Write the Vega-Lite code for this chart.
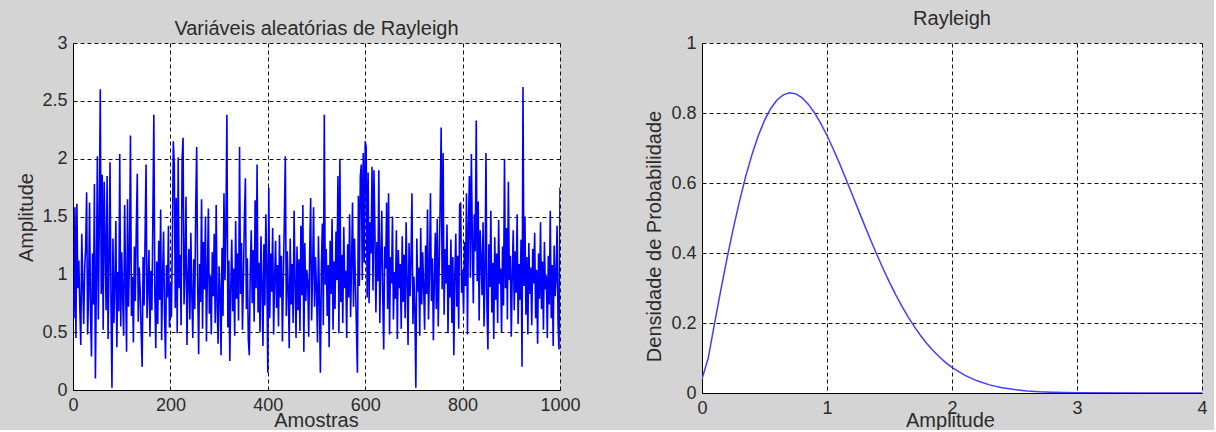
{
  "$schema": "https://vega.github.io/schema/vega-lite/v6.json",
  "background": "#d4d4d4",
  "padding": {"left": 16, "top": 9, "right": 6, "bottom": 0},
  "bounds": "flush",
  "spacing": 142,
  "config": {
    "font": "Liberation Sans",
    "view": {"fill": "white", "stroke": null},
    "axis": {
      "domainColor": "#000000", "domainWidth": 1,
      "grid": true, "gridColor": "#111111", "gridDash": [4, 3], "gridOpacity": 1, "gridWidth": 1,
      "ticks": false, "labelFlush": false,
      "labelFont": "Liberation Sans", "labelFontSize": 18, "labelColor": "#2b2b2b", "labelPadding": 6,
      "titleFont": "Liberation Sans", "titleFontSize": 20, "titleFontWeight": "normal", "titleColor": "#2b2b2b"
    },
    "title": {"font": "Liberation Sans", "fontSize": 20, "fontWeight": "normal", "color": "#2b2b2b", "anchor": "middle", "baseline": "alphabetic"}
  },
  "datasets": {
    "rv": [
      {"n":2,"a":0.62},{"n":4,"a":1.58},{"n":6,"a":0.45},{"n":8,"a":1.61},{"n":10,"a":0.88},{"n":12,"a":1.12},{"n":14,"a":0.71},{"n":16,"a":0.39},{"n":18,"a":1.35},{"n":20,"a":0.94},
      {"n":22,"a":0.57},{"n":24,"a":1.05},{"n":26,"a":1.24},{"n":28,"a":1.71},{"n":30,"a":0.48},{"n":32,"a":0.83},{"n":34,"a":1.62},{"n":36,"a":0.66},{"n":38,"a":0.29},{"n":40,"a":1.18},
      {"n":42,"a":0.74},{"n":44,"a":1.78},{"n":46,"a":0.10},{"n":48,"a":0.95},{"n":50,"a":2.02},{"n":52,"a":0.61},{"n":54,"a":1.44},{"n":56,"a":2.60},{"n":58,"a":0.83},{"n":60,"a":1.86},
      {"n":62,"a":0.52},{"n":64,"a":1.80},{"n":66,"a":1.27},{"n":68,"a":0.69},{"n":70,"a":1.85},{"n":72,"a":0.44},{"n":74,"a":1.09},{"n":76,"a":1.97},{"n":78,"a":0.76},{"n":80,"a":0.02},
      {"n":82,"a":1.31},{"n":84,"a":0.58},{"n":86,"a":0.91},{"n":88,"a":1.46},{"n":90,"a":0.37},{"n":92,"a":1.02},{"n":94,"a":0.68},{"n":96,"a":2.04},{"n":98,"a":0.55},{"n":100,"a":1.19},
      {"n":102,"a":0.81},{"n":104,"a":0.47},{"n":106,"a":1.60},{"n":108,"a":0.93},{"n":110,"a":0.33},{"n":112,"a":1.65},{"n":114,"a":0.72},{"n":116,"a":1.13},{"n":118,"a":2.20},{"n":120,"a":0.64},
      {"n":122,"a":0.98},{"n":124,"a":0.41},{"n":126,"a":1.24},{"n":128,"a":0.77},{"n":130,"a":1.40},{"n":132,"a":1.87},{"n":134,"a":0.59},{"n":136,"a":1.06},{"n":138,"a":0.86},{"n":140,"a":0.50},
      {"n":142,"a":0.20},{"n":144,"a":1.15},{"n":146,"a":0.73},{"n":148,"a":1.32},{"n":150,"a":1.95},{"n":152,"a":0.62},{"n":154,"a":0.90},{"n":156,"a":1.21},{"n":158,"a":0.46},{"n":160,"a":1.03},
      {"n":162,"a":0.69},{"n":164,"a":1.48},{"n":166,"a":2.38},{"n":168,"a":0.84},{"n":170,"a":0.36},{"n":172,"a":1.11},{"n":174,"a":0.57},{"n":176,"a":1.29},{"n":178,"a":0.78},{"n":180,"a":1.56},
      {"n":182,"a":0.43},{"n":184,"a":0.97},{"n":186,"a":1.37},{"n":188,"a":0.65},{"n":190,"a":0.27},{"n":192,"a":1.08},{"n":194,"a":0.80},{"n":196,"a":1.42},{"n":198,"a":0.54},{"n":200,"a":0.92},
      {"n":202,"a":0.63},{"n":204,"a":1.26},{"n":206,"a":2.15},{"n":208,"a":1.94},{"n":210,"a":0.71},{"n":212,"a":1.66},{"n":214,"a":0.49},{"n":216,"a":2.01},{"n":218,"a":0.88},{"n":220,"a":1.17},
      {"n":222,"a":0.56},{"n":224,"a":2.00},{"n":226,"a":2.18},{"n":228,"a":0.74},{"n":230,"a":1.04},{"n":232,"a":1.67},{"n":234,"a":0.39},{"n":236,"a":0.95},{"n":238,"a":1.22},{"n":240,"a":0.61},
      {"n":242,"a":1.36},{"n":244,"a":0.82},{"n":246,"a":0.45},{"n":248,"a":1.13},{"n":250,"a":0.70},{"n":252,"a":1.58},{"n":254,"a":2.10},{"n":256,"a":0.92},{"n":258,"a":0.31},{"n":260,"a":1.09},
      {"n":262,"a":0.76},{"n":264,"a":1.65},{"n":266,"a":0.53},{"n":268,"a":1.28},{"n":270,"a":0.87},{"n":272,"a":1.50},{"n":274,"a":0.42},{"n":276,"a":1.01},{"n":278,"a":1.57},{"n":280,"a":0.66},
      {"n":282,"a":0.99},{"n":284,"a":0.48},{"n":286,"a":1.19},{"n":288,"a":0.81},{"n":290,"a":1.35},{"n":292,"a":0.58},{"n":294,"a":1.60},{"n":296,"a":0.72},{"n":298,"a":0.40},{"n":300,"a":1.07},
      {"n":302,"a":0.86},{"n":304,"a":0.30},{"n":306,"a":1.23},{"n":308,"a":0.64},{"n":310,"a":1.70},{"n":312,"a":0.95},{"n":314,"a":1.41},{"n":316,"a":2.38},{"n":318,"a":0.54},{"n":320,"a":1.12},
      {"n":322,"a":0.25},{"n":324,"a":0.89},{"n":326,"a":1.30},{"n":328,"a":0.68},{"n":330,"a":1.05},{"n":332,"a":0.47},{"n":334,"a":1.46},{"n":336,"a":0.79},{"n":338,"a":1.18},{"n":340,"a":0.60},
      {"n":342,"a":2.10},{"n":344,"a":0.83},{"n":346,"a":1.27},{"n":348,"a":0.52},{"n":350,"a":0.97},{"n":352,"a":1.49},{"n":354,"a":1.83},{"n":356,"a":0.70},{"n":358,"a":1.14},{"n":360,"a":0.44},
      {"n":362,"a":0.30},{"n":364,"a":1.02},{"n":366,"a":1.38},{"n":368,"a":0.75},{"n":370,"a":1.21},{"n":372,"a":0.59},{"n":374,"a":1.64},{"n":376,"a":0.88},{"n":378,"a":1.95},{"n":380,"a":0.67},
      {"n":382,"a":1.10},{"n":384,"a":0.50},{"n":386,"a":1.33},{"n":388,"a":0.91},{"n":390,"a":0.38},{"n":392,"a":1.26},{"n":394,"a":0.73},{"n":396,"a":1.52},{"n":398,"a":1.03},{"n":400,"a":0.15},
      {"n":402,"a":1.75},{"n":404,"a":0.62},{"n":406,"a":1.18},{"n":408,"a":0.85},{"n":410,"a":1.40},{"n":412,"a":0.48},{"n":414,"a":0.96},{"n":416,"a":1.29},{"n":418,"a":0.71},{"n":420,"a":1.08},
      {"n":422,"a":0.55},{"n":424,"a":1.34},{"n":426,"a":0.80},{"n":428,"a":1.16},{"n":430,"a":0.42},{"n":432,"a":0.99},{"n":434,"a":1.47},{"n":436,"a":2.02},{"n":438,"a":0.64},{"n":440,"a":1.20},
      {"n":442,"a":0.87},{"n":444,"a":0.36},{"n":446,"a":1.31},{"n":448,"a":0.74},{"n":450,"a":1.09},{"n":452,"a":0.58},{"n":454,"a":1.55},{"n":456,"a":0.93},{"n":458,"a":0.45},{"n":460,"a":1.24},
      {"n":462,"a":0.69},{"n":464,"a":1.13},{"n":466,"a":0.51},{"n":468,"a":1.42},{"n":470,"a":0.82},{"n":472,"a":1.60},{"n":474,"a":0.33},{"n":476,"a":1.27},{"n":478,"a":0.77},{"n":480,"a":1.04},
      {"n":482,"a":0.94},{"n":484,"a":0.46},{"n":486,"a":1.19},{"n":488,"a":1.66},{"n":490,"a":0.60},{"n":492,"a":1.02},{"n":494,"a":1.58},{"n":496,"a":0.72},{"n":498,"a":1.15},{"n":500,"a":0.87},
      {"n":502,"a":0.41},{"n":504,"a":1.33},{"n":506,"a":0.78},{"n":508,"a":0.15},{"n":510,"a":1.06},{"n":512,"a":1.44},{"n":514,"a":0.56},{"n":516,"a":2.38},{"n":518,"a":0.91},{"n":520,"a":1.22},
      {"n":522,"a":0.64},{"n":524,"a":1.08},{"n":526,"a":0.37},{"n":528,"a":1.29},{"n":530,"a":0.83},{"n":532,"a":1.48},{"n":534,"a":0.52},{"n":536,"a":1.11},{"n":538,"a":0.70},{"n":540,"a":1.37},
      {"n":542,"a":0.95},{"n":544,"a":1.85},{"n":546,"a":0.49},{"n":548,"a":2.00},{"n":550,"a":0.76},{"n":552,"a":1.17},{"n":554,"a":0.58},{"n":556,"a":1.41},{"n":558,"a":0.88},{"n":560,"a":1.03},
      {"n":562,"a":0.45},{"n":564,"a":1.26},{"n":566,"a":0.80},{"n":568,"a":1.52},{"n":570,"a":0.63},{"n":572,"a":1.10},{"n":574,"a":1.62},{"n":576,"a":0.72},{"n":578,"a":1.31},{"n":580,"a":0.92},
      {"n":582,"a":0.54},{"n":584,"a":0.15},{"n":586,"a":1.68},{"n":588,"a":0.90},{"n":590,"a":1.85},{"n":592,"a":1.95},{"n":594,"a":0.95},{"n":596,"a":2.05},{"n":598,"a":1.10},{"n":600,"a":2.15},
      {"n":602,"a":2.10},{"n":604,"a":0.80},{"n":606,"a":1.88},{"n":608,"a":0.75},{"n":610,"a":1.45},{"n":612,"a":1.18},{"n":614,"a":1.93},{"n":616,"a":0.86},{"n":618,"a":1.90},{"n":620,"a":1.36},
      {"n":622,"a":0.67},{"n":624,"a":1.28},{"n":626,"a":0.94},{"n":628,"a":1.90},{"n":630,"a":0.58},{"n":632,"a":1.12},{"n":634,"a":1.55},{"n":636,"a":0.82},{"n":638,"a":0.35},{"n":640,"a":1.24},
      {"n":642,"a":1.05},{"n":644,"a":1.62},{"n":646,"a":0.70},{"n":648,"a":1.70},{"n":650,"a":0.48},{"n":652,"a":1.15},{"n":654,"a":0.92},{"n":656,"a":1.50},{"n":658,"a":0.61},{"n":660,"a":1.02},
      {"n":662,"a":0.79},{"n":664,"a":1.38},{"n":666,"a":0.44},{"n":668,"a":1.21},{"n":670,"a":0.88},{"n":672,"a":1.09},{"n":674,"a":0.53},{"n":676,"a":1.33},{"n":678,"a":0.76},{"n":680,"a":1.17},
      {"n":682,"a":0.62},{"n":684,"a":1.45},{"n":686,"a":0.95},{"n":688,"a":0.39},{"n":690,"a":1.27},{"n":692,"a":0.81},{"n":694,"a":1.12},{"n":696,"a":1.70},{"n":698,"a":0.57},{"n":700,"a":0.98},
      {"n":702,"a":0.68},{"n":704,"a":0.02},{"n":706,"a":1.31},{"n":708,"a":0.85},{"n":710,"a":1.06},{"n":712,"a":0.47},{"n":714,"a":1.40},{"n":716,"a":0.74},{"n":718,"a":1.19},{"n":720,"a":0.90},
      {"n":722,"a":0.52},{"n":724,"a":1.25},{"n":726,"a":0.83},{"n":728,"a":1.56},{"n":730,"a":0.61},{"n":732,"a":1.03},{"n":734,"a":1.70},{"n":736,"a":0.77},{"n":738,"a":1.14},{"n":740,"a":0.43},
      {"n":742,"a":0.96},{"n":744,"a":1.36},{"n":746,"a":0.70},{"n":748,"a":1.48},{"n":750,"a":0.55},{"n":752,"a":1.10},{"n":754,"a":1.62},{"n":756,"a":2.27},{"n":758,"a":0.87},{"n":760,"a":2.05},
      {"n":762,"a":0.65},{"n":764,"a":1.22},{"n":766,"a":0.92},{"n":768,"a":1.43},{"n":770,"a":0.49},{"n":772,"a":1.08},{"n":774,"a":0.80},{"n":776,"a":1.30},{"n":778,"a":0.58},{"n":780,"a":1.15},
      {"n":782,"a":0.30},{"n":784,"a":0.98},{"n":786,"a":1.35},{"n":788,"a":0.72},{"n":790,"a":1.16},{"n":792,"a":0.53},{"n":794,"a":1.60},{"n":796,"a":1.62},{"n":798,"a":0.84},{"n":800,"a":1.04},
      {"n":802,"a":0.66},{"n":804,"a":1.28},{"n":806,"a":0.90},{"n":808,"a":1.70},{"n":810,"a":0.48},{"n":812,"a":1.42},{"n":814,"a":1.85},{"n":816,"a":0.97},{"n":818,"a":2.04},{"n":820,"a":1.30},
      {"n":822,"a":0.75},{"n":824,"a":1.52},{"n":826,"a":1.20},{"n":828,"a":2.33},{"n":830,"a":0.94},{"n":832,"a":1.63},{"n":834,"a":0.60},{"n":836,"a":1.38},{"n":838,"a":1.12},{"n":840,"a":0.82},
      {"n":842,"a":1.45},{"n":844,"a":0.55},{"n":846,"a":1.00},{"n":848,"a":2.05},{"n":850,"a":0.71},{"n":852,"a":0.35},{"n":854,"a":1.26},{"n":856,"a":0.89},{"n":858,"a":1.55},{"n":860,"a":0.67},
      {"n":862,"a":1.10},{"n":864,"a":0.44},{"n":866,"a":1.32},{"n":868,"a":0.78},{"n":870,"a":1.18},{"n":872,"a":0.58},{"n":874,"a":1.47},{"n":876,"a":0.92},{"n":878,"a":1.05},{"n":880,"a":0.50},
      {"n":882,"a":1.24},{"n":884,"a":0.73},{"n":886,"a":2.00},{"n":888,"a":0.88},{"n":890,"a":1.40},{"n":892,"a":0.61},{"n":894,"a":1.80},{"n":896,"a":0.95},{"n":898,"a":1.16},{"n":900,"a":0.46},
      {"n":902,"a":1.02},{"n":904,"a":1.38},{"n":906,"a":0.69},{"n":908,"a":1.20},{"n":910,"a":0.84},{"n":912,"a":1.52},{"n":914,"a":0.57},{"n":916,"a":1.09},{"n":918,"a":0.78},{"n":920,"a":1.30},
      {"n":922,"a":0.20},{"n":924,"a":2.62},{"n":926,"a":0.90},{"n":928,"a":1.50},{"n":930,"a":0.65},{"n":932,"a":1.15},{"n":934,"a":0.48},{"n":936,"a":1.27},{"n":938,"a":0.83},{"n":940,"a":1.06},
      {"n":942,"a":0.56},{"n":944,"a":1.22},{"n":946,"a":0.92},{"n":948,"a":1.36},{"n":950,"a":0.62},{"n":952,"a":1.04},{"n":954,"a":0.40},{"n":956,"a":1.18},{"n":958,"a":0.79},{"n":960,"a":1.45},
      {"n":962,"a":0.70},{"n":964,"a":1.11},{"n":966,"a":0.52},{"n":968,"a":1.28},{"n":970,"a":0.87},{"n":972,"a":0.99},{"n":974,"a":0.45},{"n":976,"a":1.16},{"n":978,"a":0.74},{"n":980,"a":1.55},
      {"n":982,"a":0.62},{"n":984,"a":1.08},{"n":986,"a":0.38},{"n":988,"a":1.25},{"n":990,"a":0.81},{"n":992,"a":0.97},{"n":994,"a":1.42},{"n":996,"a":0.58},{"n":998,"a":0.35},{"n":1000,"a":1.75}
    ],
    "pdf": [
      {"x":0.0,"p":0.04},{"x":0.05,"p":0.0998},{"x":0.1,"p":0.198},{"x":0.15,"p":0.2933},{"x":0.2,"p":0.3843},{"x":0.25,"p":0.4697},{"x":0.3,"p":0.5484},{"x":0.35,"p":0.6194},{"x":0.4,"p":0.6817},{"x":0.45,"p":0.735},
      {"x":0.5,"p":0.7788},{"x":0.55,"p":0.8129},{"x":0.6,"p":0.8372},{"x":0.65,"p":0.852},{"x":0.7,"p":0.8577},{"x":0.75,"p":0.8547},{"x":0.8,"p":0.8437},{"x":0.85,"p":0.8254},{"x":0.9,"p":0.8008},{"x":0.95,"p":0.7705},
      {"x":1.0,"p":0.7358},{"x":1.05,"p":0.6973},{"x":1.1,"p":0.656},{"x":1.15,"p":0.6129},{"x":1.2,"p":0.5686},{"x":1.25,"p":0.524},{"x":1.3,"p":0.4797},{"x":1.35,"p":0.4364},{"x":1.4,"p":0.3944},{"x":1.45,"p":0.3542},
      {"x":1.5,"p":0.3162},{"x":1.55,"p":0.2805},{"x":1.6,"p":0.2474},{"x":1.65,"p":0.2168},{"x":1.7,"p":0.189},{"x":1.75,"p":0.1637},{"x":1.8,"p":0.141},{"x":1.85,"p":0.1207},{"x":1.9,"p":0.1028},{"x":1.95,"p":0.087},
      {"x":2.0,"p":0.0733},{"x":2.1,"p":0.0511},{"x":2.2,"p":0.0348},{"x":2.3,"p":0.0232},{"x":2.4,"p":0.0151},{"x":2.5,"p":0.0097},{"x":2.6,"p":0.006},{"x":2.7,"p":0.0037},{"x":2.8,"p":0.0022},{"x":3.0,"p":0.0007},
      {"x":3.5,"p":0.0},{"x":4.0,"p":0.0}
    ]
  },
  "hconcat": [
    {
      "width": 487,
      "height": 347,
      "title": {"text": "Variáveis aleatórias de Rayleigh", "offset": -5},
      "data": {"name": "rv"},
      "mark": {"type": "line", "color": "#0000ff", "strokeWidth": 1.6, "clip": true},
      "encoding": {
        "x": {
          "field": "n", "type": "quantitative",
          "scale": {"domain": [0, 1000], "nice": false},
          "axis": {"title": "Amostras", "values": [0, 200, 400, 600, 800, 1000], "format": "d", "titleX": 243, "titleY": 30, "titleBaseline": "middle", "titleAlign": "center"}
        },
        "y": {
          "field": "a", "type": "quantitative",
          "scale": {"domain": [0, 3], "nice": false},
          "axis": {"title": "Amplitude", "values": [0, 0.5, 1, 1.5, 2, 2.5, 3], "format": "~g", "titleX": -47, "titleY": 174, "titleBaseline": "middle", "titleAlign": "center"}
        }
      }
    },
    {
      "width": 500,
      "height": 350,
      "title": {"text": "Rayleigh", "offset": 5},
      "data": {"name": "pdf"},
      "mark": {"type": "line", "color": "#3f3fff", "strokeWidth": 1.5, "clip": true},
      "encoding": {
        "x": {
          "field": "x", "type": "quantitative",
          "scale": {"domain": [0, 4], "nice": false},
          "axis": {"title": "Amplitude", "values": [0, 1, 2, 3, 4], "titleX": 248, "titleY": 27, "titleBaseline": "middle", "titleAlign": "center"}
        },
        "y": {
          "field": "p", "type": "quantitative",
          "scale": {"domain": [0, 1], "nice": false},
          "axis": {"title": "Densidade de Probabilidade", "values": [0, 0.2, 0.4, 0.6, 0.8, 1], "format": "~g", "titleX": -48, "titleY": 193, "titleBaseline": "middle", "titleAlign": "center"}
        }
      }
    }
  ]
}
